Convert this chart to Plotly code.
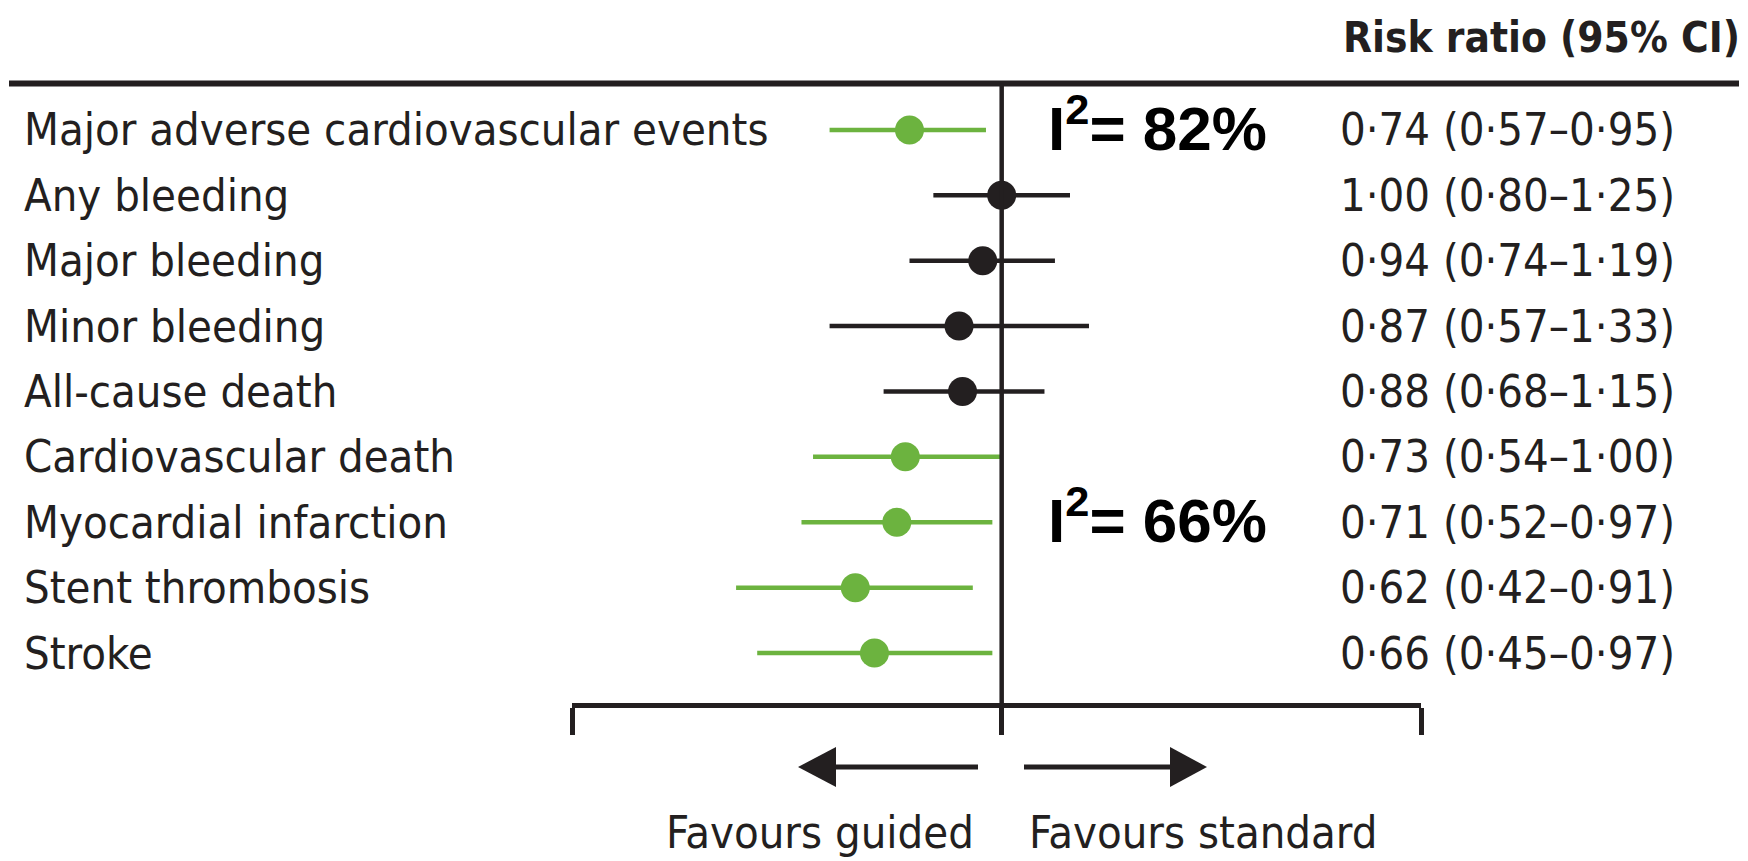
import math
import plotly.graph_objects as go

# ---------------- data ----------------
categories = [
    "Major adverse cardiovascular events",
    "Any bleeding",
    "Major bleeding",
    "Minor bleeding",
    "All-cause death",
    "Cardiovascular death",
    "Myocardial infarction",
    "Stent thrombosis",
    "Stroke",
]
risk_ratio = [0.74, 1.00, 0.94, 0.87, 0.88, 0.73, 0.71, 0.62, 0.66]
ci_low = [0.57, 0.80, 0.74, 0.57, 0.68, 0.54, 0.52, 0.42, 0.45]
ci_high = [0.95, 1.25, 1.19, 1.33, 1.15, 1.00, 0.97, 0.91, 0.97]
highlight = [True, False, False, False, False, True, True, True, True]
i2_text = ["I<sup>2</sup>= 82%", "I<sup>2</sup>= 66%"]
i2_rows = ["Major adverse cardiovascular events", "Myocardial infarction"]
header = "Risk ratio (95% CI)"
favour_left = "Favours guided"
favour_right = "Favours standard"
null_value = 1.0

# ---------------- style ----------------
W, H = 1748, 861
GREEN = "#6cb33f"
DARK = "#231f20"
TXT_FONT = "DejaVu Sans Condensed, DejaVu Sans, sans-serif"
BOLD_FONT = "Liberation Sans, Arial, sans-serif"
TXT_SIZE = 45
X_RANGE_LOG = [-0.6095, 0.5948]   # log10 range of the bracket


def px(x):
    return x / W


def py(y):
    return 1 - y / H


def fmt(v):
    return f"{v:.2f}".replace(".", "\u00b7")


null_frac = (math.log10(null_value) - X_RANGE_LOG[0]) / (X_RANGE_LOG[1] - X_RANGE_LOG[0])

fig = go.Figure()

for flag, color in [(True, GREEN), (False, DARK)]:
    idx = [i for i, h in enumerate(highlight) if h == flag]
    fig.add_trace(go.Scatter(
        x=[risk_ratio[i] for i in idx],
        y=[categories[i] for i in idx],
        mode="markers",
        marker=dict(size=29, color=color, line=dict(width=0)),
        error_x=dict(
            type="data", symmetric=False,
            array=[ci_high[i] - risk_ratio[i] for i in idx],
            arrayminus=[risk_ratio[i] - ci_low[i] for i in idx],
            color=color, thickness=4.5, width=0,
        ),
        showlegend=False, hoverinfo="skip",
    ))

annotations = []
for i, c in enumerate(categories):
    annotations.append(dict(
        x=px(22), xref="paper", y=c, yref="y", xanchor="left", yanchor="middle",
        text=c, showarrow=False, font=dict(family=TXT_FONT, size=TXT_SIZE, color=DARK),
    ))
    annotations.append(dict(
        x=px(1338), xref="paper", y=c, yref="y", xanchor="left", yanchor="middle",
        text=f"{fmt(risk_ratio[i])} ({fmt(ci_low[i])}\u2013{fmt(ci_high[i])})",
        showarrow=False, font=dict(family=TXT_FONT, size=TXT_SIZE, color=DARK),
    ))

for t, r in zip(i2_text, i2_rows):
    annotations.append(dict(
        x=px(1046), xref="paper", y=r, yref="y", yshift=6, xanchor="left", yanchor="middle",
        text=f"<b>{t}</b>", showarrow=False,
        font=dict(family=BOLD_FONT, size=62, color="#000000"),
    ))

annotations.append(dict(
    x=px(1341), xref="paper", y=py(38), yref="paper", xanchor="left", yanchor="middle",
    text=f"<b>{header}</b>", showarrow=False, font=dict(family=TXT_FONT, size=42, color=DARK),
))
annotations.append(dict(
    x=px(976), xref="paper", y=py(832), yref="paper", xanchor="right", yanchor="middle",
    text=favour_left, showarrow=False, font=dict(family=TXT_FONT, size=TXT_SIZE, color=DARK),
))
annotations.append(dict(
    x=px(1027), xref="paper", y=py(832), yref="paper", xanchor="left", yanchor="middle",
    text=favour_right, showarrow=False, font=dict(family=TXT_FONT, size=TXT_SIZE, color=DARK),
))

shapes = [
    # header rule
    dict(type="line", xref="paper", yref="paper", x0=px(9), x1=px(1739), y0=py(83.5), y1=py(83.5),
         line=dict(color=DARK, width=6)),
    # line of no effect (risk ratio = 1)
    dict(type="line", xref="x domain", yref="paper", x0=null_frac, x1=null_frac, y0=py(730), y1=py(83.5),
         line=dict(color=DARK, width=4.5)),
    # arrows
    dict(type="line", xref="paper", yref="paper", x0=px(830), x1=px(978), y0=py(767), y1=py(767),
         line=dict(color=DARK, width=5)),
    dict(type="path", xref="paper", yref="paper",
         path=f"M {px(798)} {py(767)} L {px(836)} {py(747)} L {px(836)} {py(787)} Z",
         fillcolor=DARK, line=dict(width=0)),
    dict(type="line", xref="paper", yref="paper", x0=px(1024), x1=px(1176), y0=py(767), y1=py(767),
         line=dict(color=DARK, width=5)),
    dict(type="path", xref="paper", yref="paper",
         path=f"M {px(1207)} {py(767)} L {px(1170)} {py(747)} L {px(1170)} {py(787)} Z",
         fillcolor=DARK, line=dict(width=0)),
]

fig.update_layout(
    width=W, height=H,
    margin=dict(l=0, r=0, t=0, b=0),
    paper_bgcolor="white", plot_bgcolor="white",
    annotations=annotations, shapes=shapes,
    xaxis=dict(
        type="log", range=X_RANGE_LOG,
        domain=[px(572), px(1421)],
        showline=True, linewidth=5, linecolor=DARK,
        ticks="outside", tickvals=[10 ** X_RANGE_LOG[0], null_value, 10 ** X_RANGE_LOG[1]],
        ticklen=27, tickwidth=5, tickcolor=DARK,
        showticklabels=False, showgrid=False, zeroline=False, fixedrange=True,
    ),
    yaxis=dict(
        type="category", categoryorder="array", categoryarray=categories,
        range=[8.76, -0.703], domain=[py(702.7), py(84)],
        showline=False, showticklabels=False, showgrid=False, zeroline=False, ticks="",
        fixedrange=True,
    ),
)

fig.write_html("out.html")
